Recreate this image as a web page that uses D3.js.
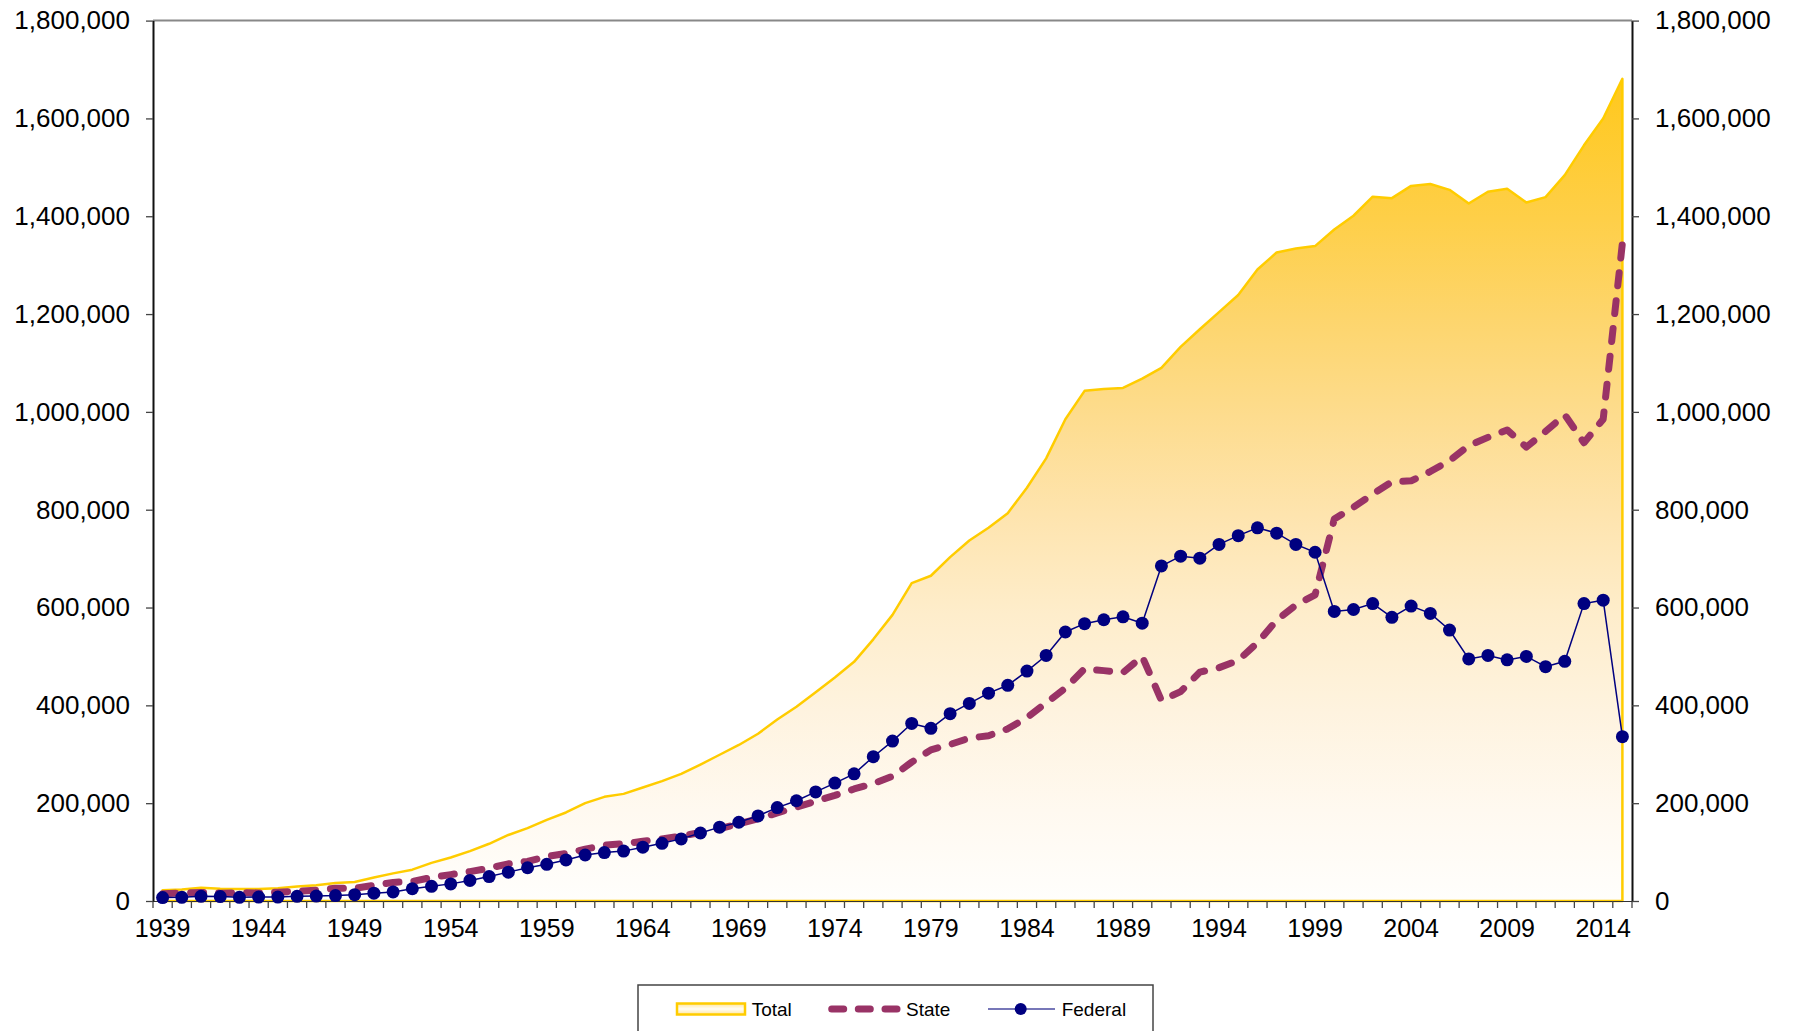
<!DOCTYPE html>
<html>
<head>
<meta charset="utf-8">
<script src="https://cdn.jsdelivr.net/npm/d3@7"></script>
<style>
  body { margin: 0; background: #fff; }
  svg { display: block; }
  text { font-family: "Liberation Sans", Arial, sans-serif; fill: #000; }
</style>
</head>
<body>
<svg id="chart" width="1795" height="1031"></svg>
<script>
// Yearly categories
const years = [1939,1940,1941,1942,1943,1944,1945,1946,1947,1948,1949,1950,1951,1952,1953,1954,1955,1956,1957,1958,
  1959,1960,1961,1962,1963,1964,1965,1966,1967,1968,1969,1970,1971,1972,1973,1974,1975,1976,1977,1978,
  1979,1980,1981,1982,1983,1984,1985,1986,1987,1988,1989,1990,1991,1992,1993,1994,1995,1996,1997,1998,
  1999,2000,2001,2002,2003,2004,2005,2006,2007,2008,2009,2010,2011,2012,2013,2014,2015];

const total = [22000,23500,27000,25000,24500,24500,26000,29500,32000,37000,39000,48000,56500,64000,78000,89000,
  102000,117000,135000,149000,166000,181000,200000,213000,219000,232000,245000,260000,279000,299000,319000,
  342000,371000,397000,427000,457000,489000,535000,585000,650000,665000,703000,737000,763000,793000,845000,
  905000,985000,1043000,1047000,1049000,1068000,1090000,1133000,1169000,1204000,1239000,1291000,1326000,
  1334000,1339000,1373000,1401000,1440000,1437000,1462000,1466000,1454000,1426000,1450000,1456000,1428000,
  1439000,1484000,1545000,1600000,1681000];

const state = [15000,16000,17500,16000,17000,16500,18000,20000,22000,26000,26000,32000,38000,40000,48000,54000,
  60000,67000,76000,81000,91000,97000,106000,114000,117000,122000,127000,133000,140000,148000,158000,168000,
  180000,192000,204000,216000,229000,240000,255000,284000,309000,320000,333000,338000,352000,375000,405000,
  435000,475000,471000,467000,500000,410000,428000,468000,477000,492000,528000,574000,605000,626000,781000,
  805000,832000,857000,859000,878000,900000,931000,948000,963000,928000,960000,994000,937000,985000,1345000];

const federal = [7000,7500,9500,9000,7500,8000,8000,9500,10000,11000,13000,16000,18500,25000,30000,35000,42000,
  50000,59000,68000,75000,84000,94000,99000,102000,110000,118000,127000,139000,151000,161000,174000,191000,
  205000,223000,241000,260000,295000,327000,363000,353000,383000,404000,425000,441000,470000,502000,550000,
  567000,575000,581000,568000,685000,705000,701000,729000,747000,763000,752000,729000,713000,592000,596000,
  608000,580000,603000,588000,554000,495000,502000,493000,500000,479000,490000,608000,615000,336000];

// Axis tick labels
const yearLabels = [1939,1944,1949,1954,1959,1964,1969,1974,1979,1984,1989,1994,1999,2004,2009,2014];
const valueTicks = [0,200000,400000,600000,800000,1000000,1200000,1400000,1600000,1800000];

const seriesNames = ["Total", "State", "Federal"];

const svg = d3.select("#chart");
const plot = { left: 153, right: 1632, top: 20.6, bottom: 901 };

const x = d3.scaleBand().domain(years).range([plot.left, plot.right]).paddingInner(0).paddingOuter(0);
const cx = yr => x(yr) + x.bandwidth() / 2;
const y = d3.scaleLinear().domain([0, 1800000]).range([plot.bottom, plot.top]);

// Gradient for the Total area: deep gold at the top fading to white at the baseline
const defs = svg.append("defs");
const grad = defs.append("linearGradient").attr("id", "totalFill")
  .attr("x1", 0).attr("y1", 0).attr("x2", 0).attr("y2", 1);
[[0, "#FFC81C"], [0.17, "#FECF48"], [0.29, "#FDD56C"], [0.41, "#FDDC8E"], [0.53, "#FEE4AE"],
 [0.65, "#FEEDCB"], [0.77, "#FEF3DF"], [0.89, "#FFF9F0"], [1, "#FFFEFC"]]
  .forEach(([o, c]) => grad.append("stop").attr("offset", o).attr("stop-color", c));

const swatchGrad = defs.append("linearGradient").attr("id", "swatchFill")
  .attr("x1", 0).attr("y1", 0).attr("x2", 0).attr("y2", 1);
[[0, "#FFE7A0"], [0.5, "#FFFDF6"], [1, "#FFE7A0"]]
  .forEach(([o, c]) => swatchGrad.append("stop").attr("offset", o).attr("stop-color", c));

// Top frame line
svg.append("line")
  .attr("x1", plot.left).attr("x2", plot.right)
  .attr("y1", plot.top).attr("y2", plot.top)
  .attr("stroke", "#888").attr("stroke-width", 2);

// Total area
const area = d3.area()
  .x((d, i) => cx(years[i]))
  .y0(y(0))
  .y1(d => y(d));

svg.append("path")
  .datum(total)
  .attr("d", area)
  .attr("fill", "url(#totalFill)")
  .attr("stroke", "#FFCC00")
  .attr("stroke-width", 2.5)
  .attr("stroke-linejoin", "round");

// Category axis line and ticks
svg.append("line")
  .attr("x1", plot.left).attr("x2", plot.right)
  .attr("y1", plot.bottom + 0.5).attr("y2", plot.bottom + 0.5)
  .attr("stroke", "#333").attr("stroke-width", 1.2);

const boundaries = years.map(yr => x(yr)).concat([plot.right]);
svg.append("g").selectAll("line").data(boundaries).join("line")
  .attr("x1", d => d).attr("x2", d => d)
  .attr("y1", plot.bottom).attr("y2", plot.bottom + 7)
  .attr("stroke", "#444").attr("stroke-width", 1.3);

svg.append("g").selectAll("text").data(yearLabels).join("text")
  .attr("x", d => cx(d))
  .attr("y", 928)
  .attr("dy", "0.35em")
  .attr("text-anchor", "middle")
  .attr("font-size", "25px")
  .text(d => d);

// Value axes, left and right
const fmt = d3.format(",");
const leftAxis = svg.append("g")
  .attr("transform", `translate(${plot.left},0)`)
  .call(d3.axisLeft(y).tickValues(valueTicks).tickFormat(fmt).tickSize(7).tickSizeOuter(0).tickPadding(16));
const rightAxis = svg.append("g")
  .attr("transform", `translate(${plot.right},0)`)
  .call(d3.axisRight(y).tickValues(valueTicks).tickFormat(fmt).tickSize(7).tickSizeOuter(0).tickPadding(16));
[leftAxis, rightAxis].forEach(g => {
  g.select(".domain").attr("stroke", "#111").attr("stroke-width", 2);
  g.selectAll(".tick line").attr("stroke", "#444").attr("stroke-width", 1.3);
  g.selectAll(".tick text").attr("font-size", "26px").attr("font-family", "Liberation Sans, Arial, sans-serif").attr("fill", "#000");
});

// State series: thick dashed line
const line = d3.line().x((d, i) => cx(years[i])).y(d => y(d));
svg.append("path")
  .datum(state)
  .attr("d", line)
  .attr("fill", "none")
  .attr("stroke", "#993366")
  .attr("stroke-width", 7)
  .attr("stroke-dasharray", "13 15")
  .attr("stroke-linecap", "round")
  .attr("stroke-linejoin", "round");

// Federal series: thin line with round markers
svg.append("path")
  .datum(federal)
  .attr("d", line)
  .attr("fill", "none")
  .attr("stroke", "#000080")
  .attr("stroke-width", 1.5);
svg.append("g").selectAll("circle").data(federal).join("circle")
  .attr("cx", (d, i) => cx(years[i]))
  .attr("cy", d => y(d))
  .attr("r", 6.5)
  .attr("fill", "#000080");

// Legend
const lg = svg.append("g");
lg.append("rect").attr("x", 638).attr("y", 985).attr("width", 515).attr("height", 70)
  .attr("fill", "#fff").attr("stroke", "#444").attr("stroke-width", 1.5);
const ly = 1009;
lg.append("rect").attr("x", 677).attr("y", ly - 5.5).attr("width", 68).attr("height", 11)
  .attr("fill", "url(#swatchFill)").attr("stroke", "#FFCC00").attr("stroke-width", 2.5);
[837.7, 864.3, 891].forEach(c => {
  lg.append("line").attr("x1", c - 6).attr("x2", c + 6).attr("y1", ly).attr("y2", ly)
    .attr("stroke", "#993366").attr("stroke-width", 7).attr("stroke-linecap", "round");
});
lg.append("line").attr("x1", 988).attr("x2", 1055).attr("y1", ly).attr("y2", ly)
  .attr("stroke", "#4a4aa0").attr("stroke-width", 1.3);
lg.append("circle").attr("cx", 1020.7).attr("cy", ly).attr("r", 6).attr("fill", "#000080");
const legendX = [751.7, 906, 1061.7];
lg.selectAll("text.lab").data(seriesNames).join("text")
  .attr("class", "lab")
  .attr("x", (d, i) => legendX[i])
  .attr("y", ly)
  .attr("dy", "0.35em")
  .attr("font-size", "19px")
  .text(d => d);
</script>
</body>
</html>
